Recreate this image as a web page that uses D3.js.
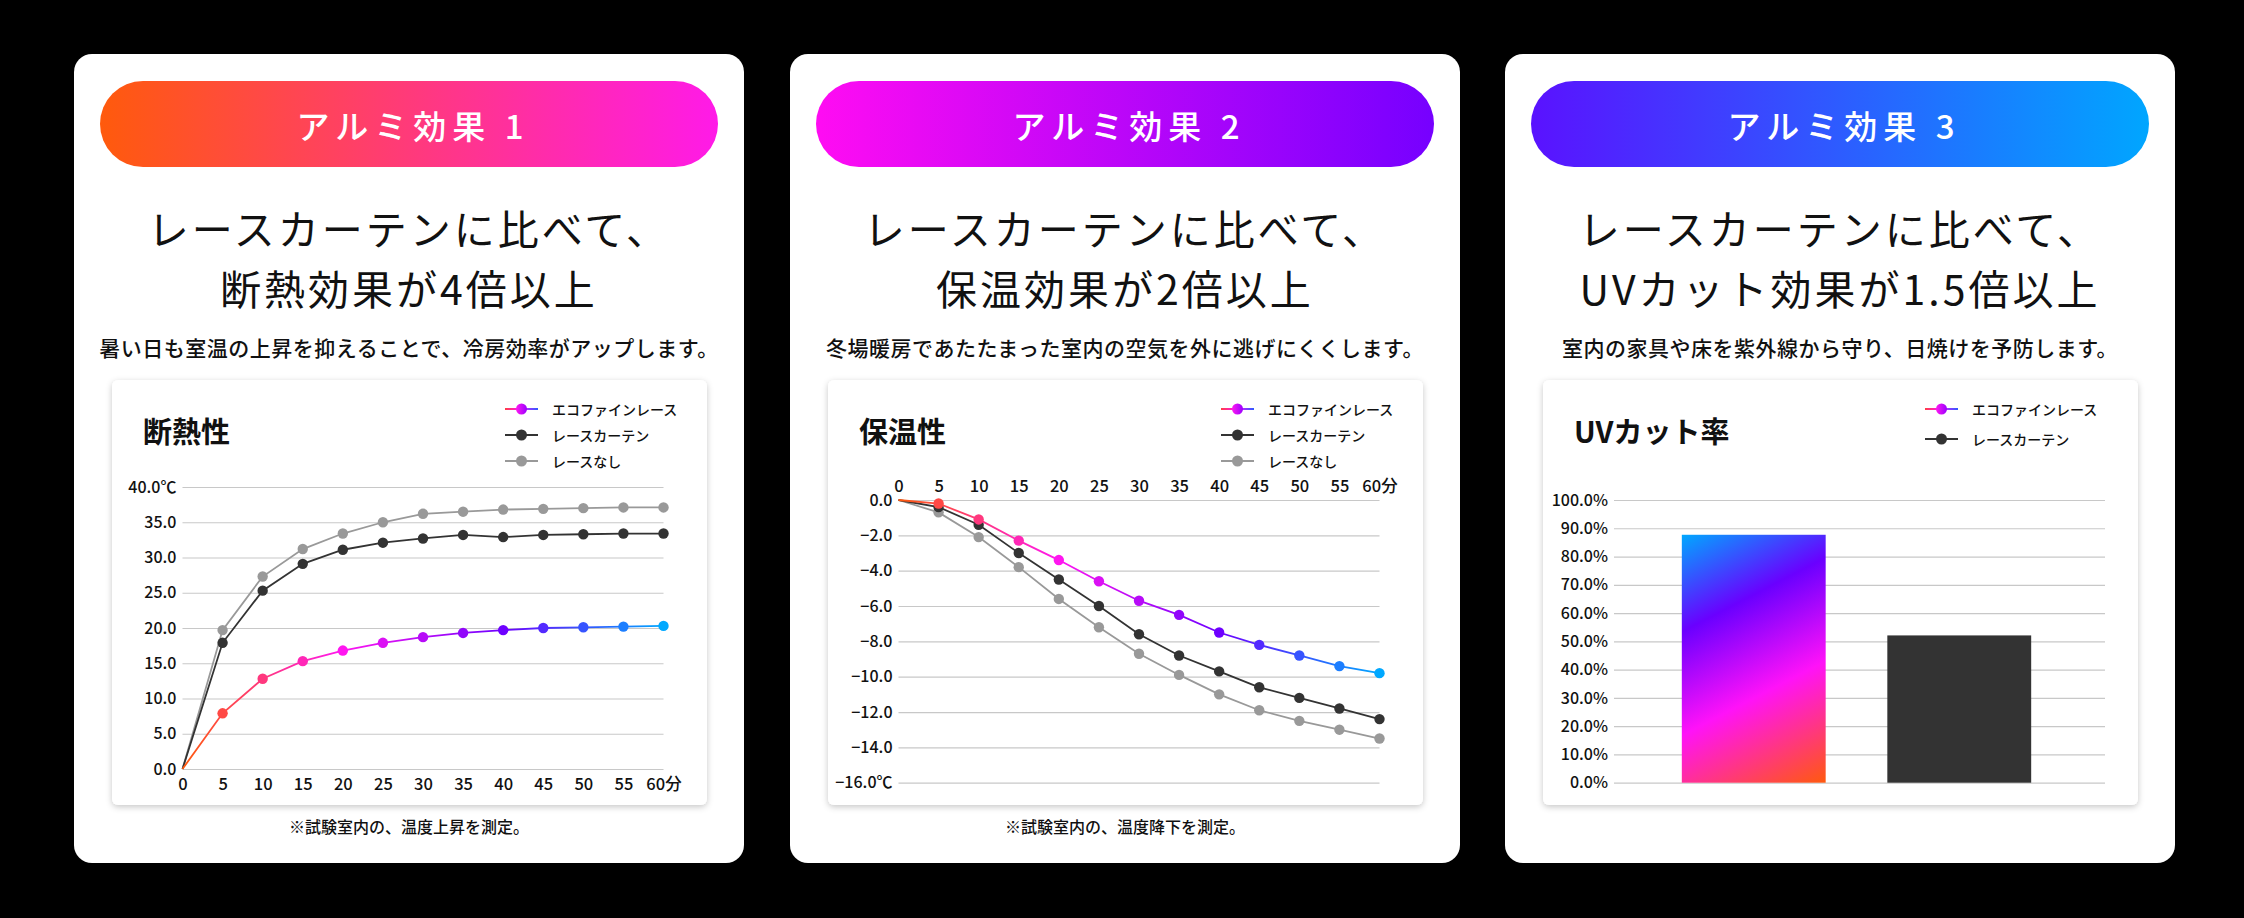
<!DOCTYPE html>
<html>
<head>
<meta charset="utf-8">
<script src="https://cdn.jsdelivr.net/npm/d3@7"></script>
<style>
  html, body { margin: 0; padding: 0; background: #000; }
  svg { display: block; }
  text { font-family: "Noto Sans CJK JP", "Noto Sans", sans-serif; }
</style>
</head>
<body>
<svg id="chart" width="2244" height="918"></svg>
<script>
// data
const minutes = [0, 5, 10, 15, 20, 25, 30, 35, 40, 45, 50, 55, 60];
const heatEco = [0, 7.9, 12.8, 15.3, 16.8, 17.9, 18.7, 19.3, 19.7, 20.0, 20.1, 20.2, 20.3];
const heatLace = [0, 17.9, 25.3, 29.1, 31.1, 32.1, 32.7, 33.2, 32.9, 33.2, 33.3, 33.4, 33.4];
const heatNone = [0, 19.7, 27.3, 31.2, 33.4, 35.0, 36.2, 36.5, 36.8, 36.9, 37.0, 37.1, 37.1];
const warmEco = [0, -0.2, -1.1, -2.3, -3.4, -4.6, -5.7, -6.5, -7.5, -8.2, -8.8, -9.4, -9.8];
const warmLace = [0, -0.4, -1.4, -3.0, -4.5, -6.0, -7.6, -8.8, -9.7, -10.6, -11.2, -11.8, -12.4];
const warmNone = [0, -0.7, -2.1, -3.8, -5.6, -7.2, -8.7, -9.9, -11.0, -11.9, -12.5, -13.0, -13.5];
const uvNames = ["エコファインレース", "レースカーテン"];
const uvValues = [87.7, 52.1];
const seriesNames = ["エコファインレース", "レースカーテン", "レースなし"];
const heatTicks = [0, 5, 10, 15, 20, 25, 30, 35, 40];
const warmTicks = [0, -2, -4, -6, -8, -10, -12, -14, -16];
const uvTicks = [0, 10, 20, 30, 40, 50, 60, 70, 80, 90, 100];

const headers = ["アルミ効果 1", "アルミ効果 2", "アルミ効果 3"];
const headlines = [
  ["レースカーテンに比べて、", "断熱効果が4倍以上"],
  ["レースカーテンに比べて、", "保温効果が2倍以上"],
  ["レースカーテンに比べて、", "UVカット効果が1.5倍以上"]
];
const subtitles = [
  "暑い日も室温の上昇を抑えることで、冷房効率がアップします。",
  "冬場暖房であたたまった室内の空気を外に逃げにくくします。",
  "室内の家具や床を紫外線から守り、日焼けを予防します。"
];
const chartTitles = ["断熱性", "保温性", "UVカット率"];
const footnotes = ["※試験室内の、温度上昇を測定。", "※試験室内の、温度降下を測定。", ""];

const svg = d3.select("#chart");
svg.append("rect").attr("width", 2244).attr("height", 918).attr("fill", "#000");

let defs = svg.append("defs");
let shadow = defs.append("filter").attr("id", "shadow")
  .attr("x", "-5%").attr("y", "-5%").attr("width", "110%").attr("height", "115%");
shadow.append("feDropShadow").attr("dx", 0).attr("dy", 2)
  .attr("stdDeviation", 3).attr("flood-color", "#000").attr("flood-opacity", 0.22);

const pillColors = [["#ff5a0c", "#ff1ae8"], ["#ff0cf2", "#7600ff"], ["#5a12ff", "#00a6ff"]];
pillColors.forEach((c, i) => {
  let lg = defs.append("linearGradient").attr("id", "pill" + i);
  lg.append("stop").attr("offset", "0%").attr("stop-color", c[0]);
  lg.append("stop").attr("offset", "100%").attr("stop-color", c[1]);
});

// colour ramp of the eco series along the minutes
const ecoStops = ["#ff5a0c", "#ff16f0", "#6e00ff", "#00a8ff"];
const ecoColor = d3.scaleLinear().domain([0, 20, 40, 60]).range(ecoStops);

let lgm = defs.append("linearGradient").attr("id", "legEcoDot");
[["0%", "#ff18f0"], ["100%", "#9a00ff"]].forEach(s =>
  lgm.append("stop").attr("offset", s[0]).attr("stop-color", s[1]));

const panelX = [74, 790, 1505], panelY = 54, panelW = 670, panelH = 809;
const boxX = 38, boxY = 326, boxW = 595, boxH = 425;

panelX.forEach((px, i) => {
  let p = svg.append("g").attr("transform", "translate(" + px + "," + panelY + ")");
  p.append("rect").attr("width", panelW).attr("height", panelH).attr("rx", 18).attr("fill", "#fff");

  p.append("rect").attr("x", 26).attr("y", 27).attr("width", 618).attr("height", 86)
    .attr("rx", 43).attr("fill", "url(#pill" + i + ")");
  p.append("text").attr("x", panelW / 2 + 4).attr("y", 71)
    .attr("text-anchor", "middle").attr("dominant-baseline", "central")
    .attr("fill", "#fff").attr("font-size", 33).attr("font-weight", 500)
    .attr("letter-spacing", 6).text(headers[i]);

  headlines[i].forEach((line, j) => {
    p.append("text").attr("x", panelW / 2).attr("y", 173 + j * 60)
      .attr("text-anchor", "middle").attr("dominant-baseline", "central")
      .attr("fill", "#111").attr("font-size", 41).attr("font-weight", 400)
      .attr("letter-spacing", 3).text(line);
  });
  p.append("text").attr("x", panelW / 2).attr("y", 293)
    .attr("text-anchor", "middle").attr("dominant-baseline", "central")
    .attr("fill", "#111").attr("font-size", 21).attr("font-weight", 500)
    .attr("letter-spacing", 0.5).text(subtitles[i]);
  if (footnotes[i]) {
    p.append("text").attr("x", panelW / 2).attr("y", 772)
      .attr("text-anchor", "middle").attr("dominant-baseline", "central")
      .attr("fill", "#111").attr("font-size", 16).attr("font-weight", 500).text(footnotes[i]);
  }

  let box = p.append("g").attr("transform", "translate(" + boxX + "," + boxY + ")");
  box.append("rect").attr("width", boxW).attr("height", boxH).attr("rx", 6)
    .attr("fill", "#fff").attr("filter", "url(#shadow)");
  box.append("text").attr("x", 31).attr("y", 50).attr("dominant-baseline", "central")
    .attr("fill", "#111").attr("font-size", 29).attr("font-weight", 700).text(chartTitles[i]);

  if (i < 2) drawLineChart(box, i);
  else drawBarChart(box);
});

function styleAxis(ax) {
  ax.select(".domain").remove();
  ax.selectAll(".tick line").attr("stroke", "#c8c8c8").attr("stroke-width", 1.2);
  ax.selectAll(".tick text").attr("fill", "#111").attr("font-size", 16)
    .attr("font-family", "'Noto Sans CJK JP', sans-serif").attr("font-weight", 500);
}

function drawLegend(g, names, lx, id) {
  let lg = defs.append("linearGradient").attr("id", "legEco" + id)
    .attr("gradientUnits", "userSpaceOnUse")
    .attr("x1", lx).attr("x2", lx + 33).attr("y1", 0).attr("y2", 0);
  [["0%", "#ff4040"], ["45%", "#ff10ff"], ["100%", "#2a5cff"]].forEach(s =>
    lg.append("stop").attr("offset", s[0]).attr("stop-color", s[1]));

  names.forEach((n, k) => {
    let ly = k === 0 ? 29 : (names.length === 2 ? 59 : 29 + k * 26);
    let col = k === 1 ? "#333" : "#999";
    g.append("line").attr("x1", lx).attr("x2", lx + 33).attr("y1", ly).attr("y2", ly)
      .attr("stroke", k === 0 ? "url(#legEco" + id + ")" : col).attr("stroke-width", 2);
    g.append("circle").attr("cx", lx + 16.5).attr("cy", ly).attr("r", 5.5)
      .attr("fill", k === 0 ? "url(#legEcoDot)" : col);
    g.append("text").attr("x", lx + 47).attr("y", ly).attr("dominant-baseline", "central")
      .attr("fill", "#111").attr("font-size", 14).attr("font-weight", 500).text(n);
  });
}

function drawLineChart(box, i) {
  let heat = i === 0;
  let x = d3.scaleLinear().domain([0, 60]).range([70.5, 551.5]);
  let y = heat ? d3.scaleLinear().domain([0, 40]).range([389, 107])
               : d3.scaleLinear().domain([-16, 0]).range([402.7, 120]);
  let ticks = heat ? heatTicks : warmTicks;
  let edge = heat ? 40 : -16;

  let ya = box.append("g").attr("transform", "translate(" + x.range()[0] + ",0)")
    .call(d3.axisLeft(y).tickValues(ticks).tickSize(-(x.range()[1] - x.range()[0])).tickPadding(6)
      .tickFormat(v => d3.format(".1f")(v) + (v === edge ? "℃" : "")));
  styleAxis(ya);

  let xa = heat
    ? box.append("g").attr("transform", "translate(0," + (y(0) + 5) + ")")
        .call(d3.axisBottom(x).tickValues(minutes).tickSize(0).tickPadding(4)
          .tickFormat(v => v + (v === 60 ? "分" : "")))
    : box.append("g").attr("transform", "translate(0," + (y(0) - 5) + ")")
        .call(d3.axisTop(x).tickValues(minutes).tickSize(0).tickPadding(3)
          .tickFormat(v => v + (v === 60 ? "分" : "")));
  styleAxis(xa);
  xa.selectAll(".tick text").attr("font-size", 16.5);

  let grad = defs.append("linearGradient").attr("id", "ecoLine" + i)
    .attr("gradientUnits", "userSpaceOnUse")
    .attr("x1", x(0)).attr("x2", x(60)).attr("y1", 0).attr("y2", 0);
  [0, 20, 40, 60].forEach(m => grad.append("stop")
    .attr("offset", (m / 60 * 100) + "%").attr("stop-color", ecoColor(m)));

  let series = heat ? [heatNone, heatLace, heatEco] : [warmNone, warmLace, warmEco];
  let colors = ["#999", "#333", null];
  let line = d3.line().x((d, k) => x(minutes[k])).y(d => y(d));

  series.forEach((vals, s) => {
    box.append("path").datum(vals).attr("d", line).attr("fill", "none")
      .attr("stroke", colors[s] || "url(#ecoLine" + i + ")").attr("stroke-width", 1.8);
    box.selectAll(".pt" + s).data(vals.slice(1)).enter().append("circle")
      .attr("cx", (d, k) => x(minutes[k + 1])).attr("cy", d => y(d)).attr("r", 5.2)
      .attr("fill", (d, k) => colors[s] || ecoColor(minutes[k + 1]));
  });

  drawLegend(box, seriesNames, 393, i);
}

function drawBarChart(box) {
  let x = d3.scaleBand().domain(uvNames).range([71, 556]).paddingInner(0.3).paddingOuter(0.33);
  let y = d3.scaleLinear().domain([0, 100]).range([402.7, 120]);

  let ya = box.append("g").attr("transform", "translate(71,0)")
    .call(d3.axisLeft(y).tickValues(uvTicks).tickSize(-491).tickPadding(6)
      .tickFormat(v => d3.format(".1f")(v) + "%"));
  styleAxis(ya);

  // gradient runs mostly downward, slightly to the right, over the first bar
  let bx = x(uvNames[0]), by = y(uvValues[0]);
  let len = x.bandwidth() * 0.46 + (y(0) - by) * 0.89;
  let bg = defs.append("linearGradient").attr("id", "barEco")
    .attr("gradientUnits", "userSpaceOnUse")
    .attr("x1", bx).attr("y1", by).attr("x2", bx + 0.46 * len).attr("y2", by + 0.89 * len);
  [["0%", "#00a8ff"], ["30%", "#6a00ff"], ["62%", "#ff12f8"], ["100%", "#ff5a0c"]].forEach(s =>
    bg.append("stop").attr("offset", s[0]).attr("stop-color", s[1]));

  box.selectAll(".bar").data(uvValues).enter().append("rect")
    .attr("x", (d, k) => x(uvNames[k])).attr("width", x.bandwidth())
    .attr("y", d => y(d)).attr("height", d => y(0) - y(d))
    .attr("fill", (d, k) => k === 0 ? "url(#barEco)" : "#333");

  drawLegend(box, uvNames, 382, 2);
}
</script>
</body>
</html>
